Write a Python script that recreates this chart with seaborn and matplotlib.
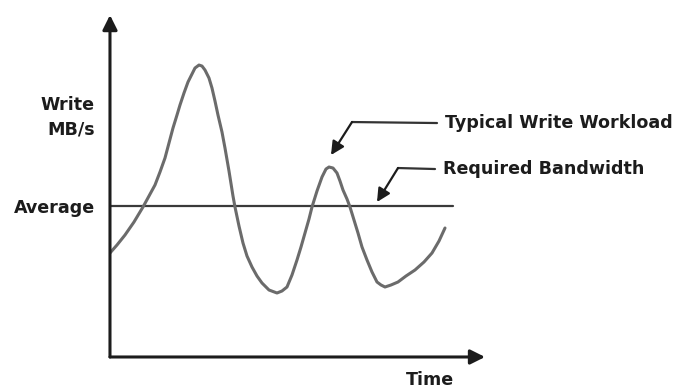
import pandas as pd
import matplotlib
matplotlib.use("Agg")
import matplotlib.pyplot as plt
import seaborn as sns

sns.set_style("white")
plt.rcParams['font.family'] = ['DejaVu Sans']

## data (arbitrary units) ##

time = [0, 7, 15, 24, 33, 39, 45, 50, 55, 59, 63, 67, 70, 74, 78, 82, 85, 89,
        92, 95, 99, 102, 105, 108, 112, 115, 119, 123, 125, 129, 133, 137, 142,
        147, 152, 159, 167, 172, 177, 182, 187, 191, 195, 199, 202, 207, 212,
        216, 219, 223, 227, 230, 233, 237, 240, 244, 248, 252, 257, 262, 267,
        271, 275, 281, 288, 296, 305, 314, 322, 329, 335]
write_mbs = [104, 112, 122, 135, 150, 161, 172, 185, 199, 214, 229, 242, 252,
             264, 275, 283, 289, 292, 291, 287, 279, 269, 256, 242, 225, 209,
             186, 161, 150, 131, 114, 101, 90, 81, 74, 67, 64, 66, 70, 82, 97,
             110, 124, 138, 150, 166, 180, 188, 190, 189, 184, 176, 167, 158,
             150, 137, 124, 110, 97, 85, 75, 72, 70, 72, 75, 81, 87, 95, 104,
             116, 129]

avg_span = [0, 343]
avg_level = 151

# callouts: text anchor, bend point, arrow tip
labels = ["Typical Write Workload", "Required Bandwidth"]
label_pos = [(335, 234), (333, 188)]
bend_pos = [(242, 235), (288, 189)]
tip_pos = [(221, 202), (267, 155)]

df = pd.DataFrame({'Time': time, 'Write': write_mbs})
df_avg = pd.DataFrame({'Time': avg_span, 'Write': [avg_level] * len(avg_span)})

dark = '#1c1c1c'
font_size = 12.6

fig = plt.figure(figsize=(6.81, 3.89), dpi=100)
ax = fig.add_axes([0.1615, 0.0823, 0.5507, 0.879])

sns.lineplot(data=df_avg, x='Time', y='Write', color='#3a3a3a', lw=1.6, ax=ax)
sns.lineplot(data=df, x='Time', y='Write', color='#6b6b6b', lw=2.2, ax=ax,
             solid_joinstyle='round', solid_capstyle='round')

ax.set_xlim(0, 375)
ax.set_ylim(0, 342)
sns.despine(ax=ax, top=True, right=True, left=True, bottom=True)

# axes with arrow heads
arrow_kw = dict(arrowstyle='-|>', color=dark, lw=2.2, mutation_scale=22,
                shrinkA=0, shrinkB=0)
ax.annotate('', xy=(1, 0), xytext=(0, 0), xycoords='axes fraction',
            arrowprops=arrow_kw, annotation_clip=False)
ax.annotate('', xy=(0, 1), xytext=(0, 0), xycoords='axes fraction',
            arrowprops=arrow_kw, annotation_clip=False)

ax.set_xticks([])
ax.set_yticks([avg_level], ['Average'], fontsize=font_size, fontweight='bold',
              color=dark)
ax.tick_params(axis='y', length=0, pad=11)
ax.set_xlabel('')
ax.set_ylabel('')

ax.text(-15, 240, 'Write\nMB/s', ha='right', va='center', fontsize=font_size,
        fontweight='bold', color=dark, linespacing=1.5)
ax.text(320, -23, 'Time', ha='center', va='center', fontsize=font_size,
        fontweight='bold', color=dark, clip_on=False)

for lab, lp, bp, tp in zip(labels, label_pos, bend_pos, tip_pos):
    ax.plot([lp[0] - 8, bp[0]], [lp[1], bp[1]], color='#333333', lw=1.6,
            clip_on=False)
    ax.annotate('', xy=tp, xytext=bp,
                arrowprops=dict(arrowstyle='-|>', color=dark, lw=1.6,
                                mutation_scale=20, shrinkA=0, shrinkB=0),
                annotation_clip=False)
    ax.text(lp[0], lp[1], lab, ha='left', va='center', fontsize=font_size,
            fontweight='bold', color=dark, clip_on=False)

plt.savefig('out.png', dpi=100)
